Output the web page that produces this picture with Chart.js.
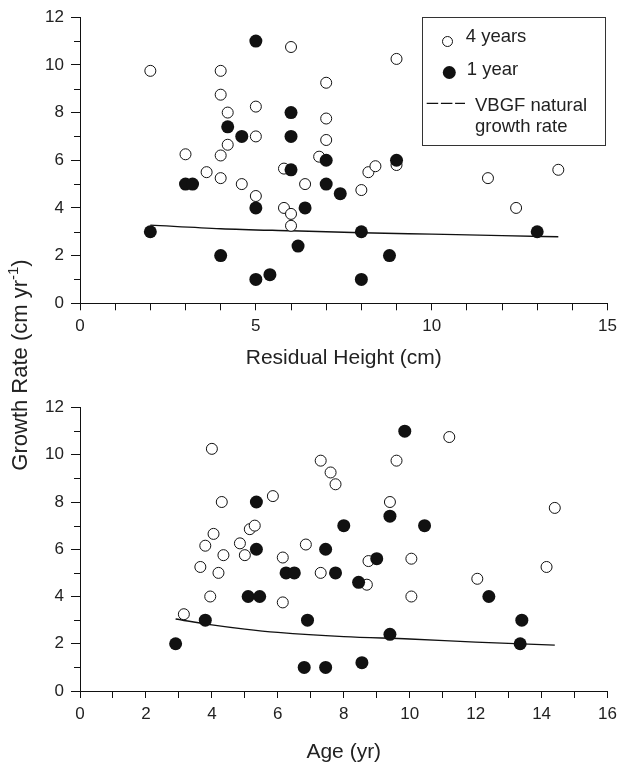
<!DOCTYPE html>
<html>
<head>
<meta charset="utf-8">
<script src="https://cdn.jsdelivr.net/npm/chart.js@4.4.1/dist/chart.umd.min.js"></script>
<style>
  html, body { margin:0; padding:0; background:#fff; }
  body { width:623px; height:767px; position:relative; overflow:hidden; font-family:"Liberation Sans", Arial, Helvetica, sans-serif; }
  canvas { position:absolute; left:0; }
  #c1 { top:0; }
  #c2 { top:384px; }
  #ytitle { position:absolute; width:320px; height:24px; line-height:24px; left:-140.5px; top:353px;
    transform:rotate(-90deg); transform-origin:50% 50%; text-align:center; font-size:22px; color:#222; white-space:nowrap; }
  #ytitle sup { font-size:0.68em; line-height:0; vertical-align:0.62em; }
</style>
</head>
<body>
<canvas id="c1" width="623" height="384"></canvas>
<canvas id="c2" width="623" height="383"></canvas>
<div id="ytitle">Growth Rate (cm yr<sup>-1</sup>)</div>
<script>
// ---- Data: top panel (Residual Height) ----
const topOpenX = [2,4,4,4.2,3,3.6,4,4,4.2,4.6,5,5,5,6,5.8,5.8,6,6,6.4,6.8,7,7,7,9,9,8.2,8.4,8,11.6,12.4,13.6];
const topOpenY = [9.75,9.75,8.75,8.0,6.25,5.5,6.2,5.25,6.65,5.0,8.25,7.0,4.5,10.75,5.65,4.0,3.75,3.25,5.0,6.15,9.25,7.75,6.85,10.25,5.8,5.5,5.75,4.75,5.25,4.0,5.6];
const topFilledX = [5,6,6,4.2,4.6,3,3.2,6,7,7,7.4,5,6.4,2,4,6.2,5,5.4,9,8,8.8,8,13];
const topFilledY = [11,8,7,7.4,7,5,5,5.6,6,5,4.6,4,4,3,2,2.4,1,1.2,6,3,2,1,3];
const topLineX = [2,4,6,8,10,12,13.6];
const topLineY = [3.28,3.13,3.04,2.96,2.9,2.84,2.79];

// ---- Data: bottom panel (Age) ----
const botOpenX = [4.0,4.3,3.15,3.65,3.8,4.05,3.95,4.2,4.35,4.85,5.0,5.15,5.3,5.85,6.15,6.15,6.85,7.3,7.6,7.75,7.3,11.2,9.6,9.4,8.75,8.7,10.05,10.05,12.05,14.15,14.4];
const botOpenY = [10.25,8.0,3.25,5.25,6.15,6.65,4.0,5.0,5.75,6.25,5.75,6.85,7.0,8.25,5.65,3.75,6.2,9.75,9.25,8.75,5.0,10.75,9.75,8.0,5.5,4.5,5.6,4.0,4.75,5.25,7.75];
const botFilledX = [5.35,5.35,5.1,5.45,6.25,6.5,7.45,7.75,8.0,3.8,2.9,6.9,6.8,7.45,9.85,9.4,10.45,9.0,8.45,12.4,13.4,9.4,13.35,8.55];
const botFilledY = [8,6,4,4,5,5,6,5,7,3,2,3,1,1,11,7.4,7,5.6,4.6,4,3,2.4,2,1.2];
const botLineX = [2.9,4,5,6,8,10,12,14.4];
const botLineY = [3.05,2.8,2.62,2.48,2.3,2.2,2.07,1.94];

// ---- Text ----
const seriesNames = ['4 years', '1 year', 'VBGF natural', 'growth rate'];
const topXTitle = 'Residual Height (cm)';
const botXTitle = 'Age (yr)';

const FONT = '"Liberation Sans", Arial, Helvetica, sans-serif';
const INK = '#111';
const TXT = '#222';

function zip(xs, ys) { return xs.map((x, i) => ({x: x, y: ys[i]})); }

const minorYTicks = {
  id: 'minorYTicks',
  afterDraw(chart) {
    const y = chart.scales.y;
    const ctx = chart.ctx;
    ctx.save();
    ctx.strokeStyle = INK;
    ctx.lineWidth = 1;
    for (let v = Math.ceil(y.min); v <= y.max; v++) {
      if (v % 2 === 0) continue;
      const py = Math.round(y.getPixelForValue(v)) + 0.5;
      ctx.beginPath();
      ctx.moveTo(y.right - 6, py);
      ctx.lineTo(y.right, py);
      ctx.stroke();
    }
    ctx.restore();
  }
};

const boxLegend = {
  id: 'boxLegend',
  afterDraw(chart) {
    const ctx = chart.ctx;
    ctx.save();
    ctx.strokeStyle = '#333';
    ctx.lineWidth = 1;
    ctx.strokeRect(422.5, 17.5, 183, 128);
    // open marker
    ctx.beginPath();
    ctx.arc(447.5, 41.5, 5, 0, Math.PI * 2);
    ctx.fillStyle = '#fff'; ctx.fill();
    ctx.strokeStyle = INK; ctx.stroke();
    // filled marker
    ctx.beginPath();
    ctx.arc(449.3, 72.5, 6.5, 0, Math.PI * 2);
    ctx.fillStyle = INK; ctx.fill();
    // dashed line sample
    ctx.beginPath();
    ctx.setLineDash([11.5, 2.7]);
    ctx.lineWidth = 1.3;
    ctx.moveTo(426.7, 103.3);
    ctx.lineTo(465, 103.3);
    ctx.stroke();
    ctx.setLineDash([]);
    // texts
    ctx.fillStyle = TXT;
    ctx.font = '18.5px ' + FONT;
    ctx.textBaseline = 'middle';
    ctx.textAlign = 'left';
    ctx.fillText(seriesNames[0], 465.7, 36.5);
    ctx.fillText(seriesNames[1], 466.7, 70);
    ctx.fillText(seriesNames[2], 475, 106);
    ctx.fillText(seriesNames[3], 475, 127);
    ctx.restore();
  }
};

function makeChart(canvasId, cfg) {
  return new Chart(document.getElementById(canvasId), {
    type: 'scatter',
    data: {
      datasets: [
        { label: seriesNames[1], data: zip(cfg.fx, cfg.fy), pointRadius: 6.5, pointHoverRadius: 6.5,
          backgroundColor: INK, borderColor: INK, borderWidth: 0 },
        { label: seriesNames[0], data: zip(cfg.ox, cfg.oy), pointRadius: 5.5, pointHoverRadius: 5.5,
          backgroundColor: '#fff', borderColor: INK, borderWidth: 1 },
        { label: 'VBGF natural growth rate', type: 'line', data: zip(cfg.lx, cfg.ly), showLine: true,
          borderColor: INK, borderWidth: 1.4, pointRadius: 0, fill: false,
          cubicInterpolationMode: 'monotone' }
      ]
    },
    options: {
      responsive: false,
      animation: false,
      events: [],
      layout: { padding: { top: cfg.padTop, right: cfg.padRight, left: 0, bottom: 0 } },
      plugins: { legend: { display: false }, tooltip: { enabled: false } },
      scales: {
        x: {
          type: 'linear', min: 0, max: cfg.xmax,
          afterFit(s) { s.height = cfg.xHeight; },
          ticks: { stepSize: 1, autoSkip: false, maxRotation: 0, padding: 6, color: TXT,
            font: { family: FONT, size: 17 },
            callback: v => (Math.round(v) % cfg.xLabelEvery === 0 ? String(Math.round(v)) : '') },
          grid: { drawOnChartArea: false, drawTicks: true, tickLength: 7, color: INK, tickWidth: 1 },
          border: { display: true, color: INK, width: 1 },
          title: { display: true, text: cfg.xTitle, color: TXT,
            font: { family: FONT, size: cfg.titleSize }, padding: { top: 0, bottom: cfg.titlePadBottom } }
        },
        y: {
          type: 'linear', min: 0, max: 12,
          afterFit(s) { s.width = 80; },
          ticks: { stepSize: 2, padding: 7, color: TXT, font: { family: FONT, size: 17 } },
          grid: { drawOnChartArea: false, drawTicks: true, tickLength: 9, color: INK, tickWidth: 1 },
          border: { display: true, color: INK, width: 1 }
        }
      }
    },
    plugins: cfg.plugins
  });
}

makeChart('c1', {
  fx: topFilledX, fy: topFilledY, ox: topOpenX, oy: topOpenY, lx: topLineX, ly: topLineY,
  xmax: 15, xLabelEvery: 5, xTitle: topXTitle, titleSize: 21, titlePadBottom: 12.8,
  padTop: 16.8, padRight: 10.5, xHeight: 80.7, plugins: [minorYTicks, boxLegend]
});
makeChart('c2', {
  fx: botFilledX, fy: botFilledY, ox: botOpenX, oy: botOpenY, lx: botLineX, ly: botLineY,
  xmax: 16, xLabelEvery: 2, xTitle: botXTitle, titleSize: 21, titlePadBottom: 2.6,
  padTop: 23.5, padRight: 10.3, xHeight: 76, plugins: [minorYTicks]
});
</script>
</body>
</html>
